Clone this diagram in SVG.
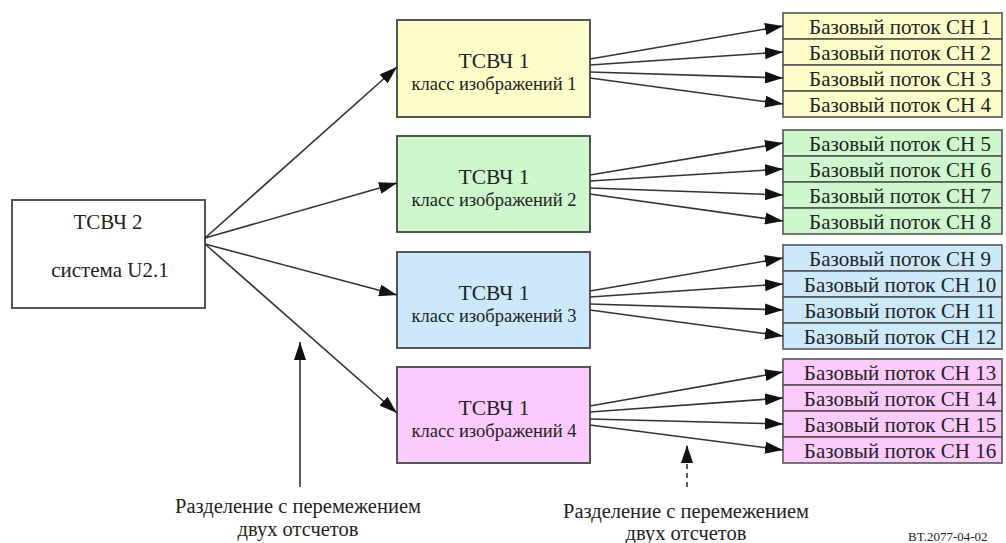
<svg xmlns="http://www.w3.org/2000/svg" width="1006" height="543" viewBox="0 0 1006 543">
<style>
text{font-family:"Liberation Serif","Times New Roman","DejaVu Serif",serif;fill:#222;}
.box{stroke:#555;stroke-width:2;}
.row{stroke:#555;stroke-width:1.6;}
.t1{font-size:21.5px;text-anchor:middle;}
.t2{font-size:18.5px;text-anchor:middle;}
.t0{font-size:21px;text-anchor:middle;}
.tr{font-size:21px;text-anchor:middle;}
.lab{font-size:20.5px;text-anchor:middle;}
.ln{stroke:#333;stroke-width:1.6;fill:none;marker-end:url(#ah);}
.y{fill:#fdfdca;}
.g{fill:#cef7cd;}
.b{fill:#cce9fb;}
.p{fill:#fdcafd;}
</style>
<defs>
<marker id="ah" markerUnits="userSpaceOnUse" markerWidth="20" markerHeight="12" refX="18" refY="6" orient="auto">
<path d="M0,0 L18,6 L0,12 Z" fill="#111"/>
</marker>
</defs>
<rect width="1006" height="543" fill="#fff"/>

<g id="src">
<rect class="box" x="12" y="200" width="193" height="108" fill="#fff"/>
<text class="t0" x="108" y="229">ТСВЧ 2</text>
<text class="t0" x="110" y="277">система U2.1</text>
</g>

<g id="m1">
<rect class="box y" x="397" y="20" width="193" height="97"/>
<text class="t1" x="494" y="68">ТСВЧ 1</text>
<text class="t2" x="494" y="90">класс изображений 1</text>
</g>
<g id="m2">
<rect class="box g" x="397" y="136" width="193" height="96"/>
<text class="t1" x="494" y="184">ТСВЧ 1</text>
<text class="t2" x="494" y="206">класс изображений 2</text>
</g>
<g id="m3">
<rect class="box b" x="397" y="252" width="193" height="96"/>
<text class="t1" x="494" y="300">ТСВЧ 1</text>
<text class="t2" x="494" y="322">класс изображений 3</text>
</g>
<g id="m4">
<rect class="box p" x="397" y="367" width="193" height="96"/>
<text class="t1" x="494" y="415">ТСВЧ 1</text>
<text class="t2" x="494" y="437">класс изображений 4</text>
</g>

<g id="r1">
<rect class="row y" x="783" y="13" width="219" height="26"/>
<rect class="row y" x="783" y="39" width="219" height="26"/>
<rect class="row y" x="783" y="65" width="219" height="26"/>
<rect class="row y" x="783" y="91" width="219" height="26"/>
<text class="tr" x="900" y="34">Базовый поток CH 1</text>
<text class="tr" x="900" y="60">Базовый поток CH 2</text>
<text class="tr" x="900" y="86">Базовый поток CH 3</text>
<text class="tr" x="900" y="112">Базовый поток CH 4</text>
</g>
<g id="r2">
<rect class="row g" x="783" y="130" width="219" height="26"/>
<rect class="row g" x="783" y="156" width="219" height="26"/>
<rect class="row g" x="783" y="182" width="219" height="26"/>
<rect class="row g" x="783" y="208" width="219" height="26"/>
<text class="tr" x="900" y="151">Базовый поток CH 5</text>
<text class="tr" x="900" y="177">Базовый поток CH 6</text>
<text class="tr" x="900" y="203">Базовый поток CH 7</text>
<text class="tr" x="900" y="229">Базовый поток CH 8</text>
</g>
<g id="r3">
<rect class="row b" x="783" y="245" width="219" height="26"/>
<rect class="row b" x="783" y="271" width="219" height="26"/>
<rect class="row b" x="783" y="297" width="219" height="26"/>
<rect class="row b" x="783" y="323" width="219" height="26"/>
<text class="tr" x="900" y="266">Базовый поток CH 9</text>
<text class="tr" x="900" y="292">Базовый поток CH 10</text>
<text class="tr" x="900" y="318">Базовый поток CH 11</text>
<text class="tr" x="900" y="344">Базовый поток CH 12</text>
</g>
<g id="r4">
<rect class="row p" x="783" y="359" width="219" height="26"/>
<rect class="row p" x="783" y="385" width="219" height="26"/>
<rect class="row p" x="783" y="411" width="219" height="26"/>
<rect class="row p" x="783" y="437" width="219" height="26"/>
<text class="tr" x="900" y="380">Базовый поток CH 13</text>
<text class="tr" x="900" y="406">Базовый поток CH 14</text>
<text class="tr" x="900" y="432">Базовый поток CH 15</text>
<text class="tr" x="900" y="458">Базовый поток CH 16</text>
</g>

<g id="connectors">
<line class="ln" x1="205" y1="238" x2="397" y2="67"/>
<line class="ln" x1="205" y1="238" x2="397" y2="183"/>
<line class="ln" x1="205" y1="244" x2="397" y2="295"/>
<line class="ln" x1="205" y1="244" x2="397" y2="413"/>

<line class="ln" x1="590" y1="59" x2="783" y2="26"/>
<line class="ln" x1="590" y1="65" x2="783" y2="52"/>
<line class="ln" x1="590" y1="72" x2="783" y2="78"/>
<line class="ln" x1="590" y1="78" x2="783" y2="104"/>

<line class="ln" x1="590" y1="175" x2="783" y2="143"/>
<line class="ln" x1="590" y1="181" x2="783" y2="169"/>
<line class="ln" x1="590" y1="188" x2="783" y2="195"/>
<line class="ln" x1="590" y1="194" x2="783" y2="221"/>

<line class="ln" x1="590" y1="291" x2="783" y2="258"/>
<line class="ln" x1="590" y1="297" x2="783" y2="284"/>
<line class="ln" x1="590" y1="304" x2="783" y2="310"/>
<line class="ln" x1="590" y1="310" x2="783" y2="336"/>

<line class="ln" x1="590" y1="406" x2="783" y2="372"/>
<line class="ln" x1="590" y1="412" x2="783" y2="398"/>
<line class="ln" x1="590" y1="419" x2="783" y2="424"/>
<line class="ln" x1="590" y1="425" x2="783" y2="450"/>

<line class="ln" x1="300" y1="487" x2="300" y2="342"/>
<line class="ln" x1="687" y1="487" x2="687" y2="445" stroke-dasharray="5,4"/>
</g>

<g id="labels">
<text class="lab" x="298" y="513">Разделение с перемежением</text>
<text class="lab" x="298" y="536">двух отсчетов</text>
<text class="lab" x="686" y="518">Разделение с перемежением</text>
<text class="lab" x="686" y="540">двух отсчетов</text>
<text x="908" y="541" style="font-size:13px">BT.2077-04-02</text>
</g>
</svg>
